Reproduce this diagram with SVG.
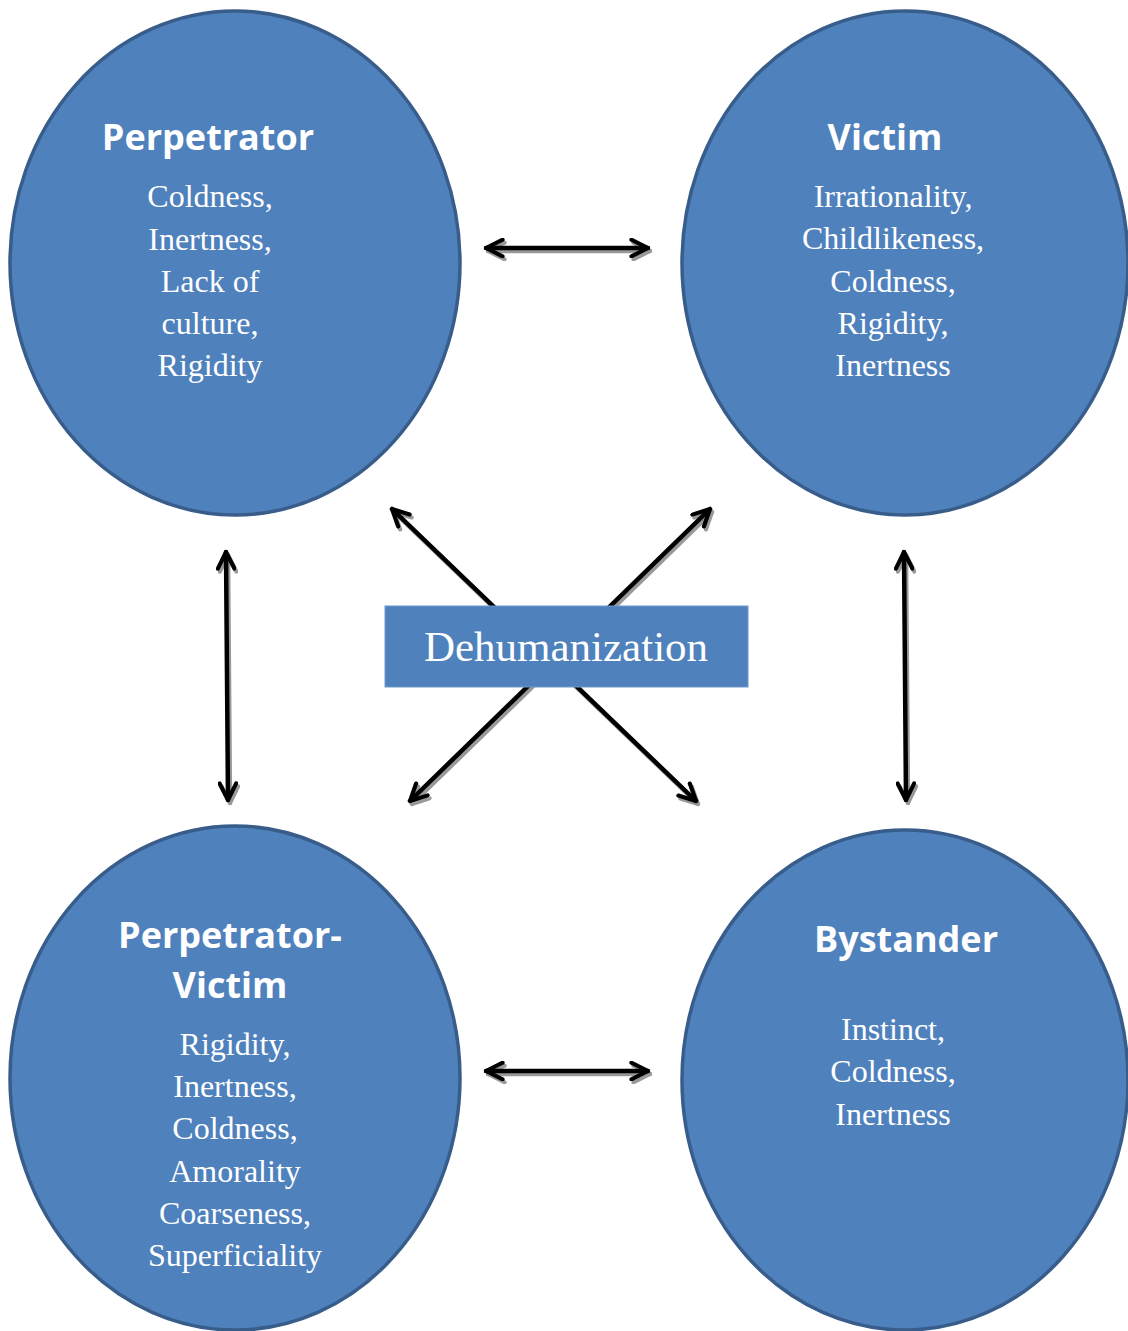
<svg xmlns="http://www.w3.org/2000/svg" width="1128" height="1331" viewBox="0 0 1128 1331">
<style>
.node{fill:#4f81bd;stroke:#385d8a;stroke-width:3.5}
.title{font-family:"Open Sans","DejaVu Sans",sans-serif;font-weight:bold;font-size:36px;fill:#fff;text-anchor:middle}
.body{font-family:"Liberation Serif","Times New Roman",serif;font-size:32px;fill:#fff;text-anchor:middle}
.ln{fill:none;stroke:#000;stroke-width:4.5;stroke-linecap:round;stroke-linejoin:round}
.sh{fill:none;stroke:#999;stroke-width:4.5;stroke-linecap:round;stroke-linejoin:round}
</style>
<defs>
<marker id="ah" viewBox="0 0 10 10" refX="9" refY="5" markerWidth="4.6" markerHeight="4.6" orient="auto-start-reverse" markerUnits="strokeWidth">
<path d="M1,1 L9,5 L1,9" fill="none" stroke="#000" stroke-width="2" stroke-linecap="round" stroke-linejoin="round"/>
</marker>
<marker id="ahs" viewBox="0 0 10 10" refX="9" refY="5" markerWidth="4.6" markerHeight="4.6" orient="auto-start-reverse" markerUnits="strokeWidth">
<path d="M1,1 L9,5 L1,9" fill="none" stroke="#999" stroke-width="2" stroke-linecap="round" stroke-linejoin="round"/>
</marker>
</defs>
<rect width="1128" height="1331" fill="#fff"/>
<g id="connectors">
<g transform="translate(2,3)">
<line class="sh" x1="486" y1="248" x2="648" y2="248" marker-start="url(#ahs)" marker-end="url(#ahs)"/>
<line class="sh" x1="486" y1="1071" x2="648" y2="1071" marker-start="url(#ahs)" marker-end="url(#ahs)"/>
<line class="sh" x1="226" y1="552" x2="228" y2="800" marker-start="url(#ahs)" marker-end="url(#ahs)"/>
<line class="sh" x1="904" y1="552" x2="906" y2="800" marker-start="url(#ahs)" marker-end="url(#ahs)"/>
<line class="sh" x1="392" y1="509" x2="696" y2="801" marker-start="url(#ahs)" marker-end="url(#ahs)"/>
<line class="sh" x1="710" y1="509" x2="410" y2="801" marker-start="url(#ahs)" marker-end="url(#ahs)"/>
</g>
<line class="ln" x1="486" y1="248" x2="648" y2="248" marker-start="url(#ah)" marker-end="url(#ah)"/>
<line class="ln" x1="486" y1="1071" x2="648" y2="1071" marker-start="url(#ah)" marker-end="url(#ah)"/>
<line class="ln" x1="226" y1="552" x2="228" y2="800" marker-start="url(#ah)" marker-end="url(#ah)"/>
<line class="ln" x1="904" y1="552" x2="906" y2="800" marker-start="url(#ah)" marker-end="url(#ah)"/>
<line class="ln" x1="392" y1="509" x2="696" y2="801" marker-start="url(#ah)" marker-end="url(#ah)"/>
<line class="ln" x1="710" y1="509" x2="410" y2="801" marker-start="url(#ah)" marker-end="url(#ah)"/>
</g>
<g id="dehumanization">
<rect x="385" y="606" width="363" height="81" fill="#4f81bd" stroke="#6f97cc" stroke-width="1"/>
<text x="566" y="661" font-family="Liberation Serif,serif" font-size="43" fill="#fff" text-anchor="middle">Dehumanization</text>
</g>
<g id="perpetrator">
<ellipse class="node" cx="235" cy="263" rx="225" ry="252"/>
<text class="title" x="208" y="150">Perpetrator</text>
<text class="body" x="210" y="207">Coldness,</text>
<text class="body" x="210" y="250">Inertness,</text>
<text class="body" x="210" y="292">Lack of</text>
<text class="body" x="210" y="334">culture,</text>
<text class="body" x="210" y="376">Rigidity</text>
</g>
<g id="victim">
<ellipse class="node" cx="905" cy="263" rx="223" ry="252"/>
<text class="title" x="885" y="150">Victim</text>
<text class="body" x="893" y="207">Irrationality,</text>
<text class="body" x="893" y="249">Childlikeness,</text>
<text class="body" x="893" y="292">Coldness,</text>
<text class="body" x="893" y="334">Rigidity,</text>
<text class="body" x="893" y="376">Inertness</text>
</g>
<g id="perpetrator-victim">
<ellipse class="node" cx="235" cy="1078" rx="225" ry="252"/>
<text class="title" x="230" y="948">Perpetrator-</text>
<text class="title" x="230" y="998">Victim</text>
<text class="body" x="235" y="1055">Rigidity,</text>
<text class="body" x="235" y="1097">Inertness,</text>
<text class="body" x="235" y="1139">Coldness,</text>
<text class="body" x="235" y="1182">Amorality</text>
<text class="body" x="235" y="1224">Coarseness,</text>
<text class="body" x="235" y="1266">Superficiality</text>
</g>
<g id="bystander">
<ellipse class="node" cx="905" cy="1080" rx="223" ry="250"/>
<text class="title" x="906" y="952">Bystander</text>
<text class="body" x="893" y="1040">Instinct,</text>
<text class="body" x="893" y="1082">Coldness,</text>
<text class="body" x="893" y="1125">Inertness</text>
</g>
</svg>
